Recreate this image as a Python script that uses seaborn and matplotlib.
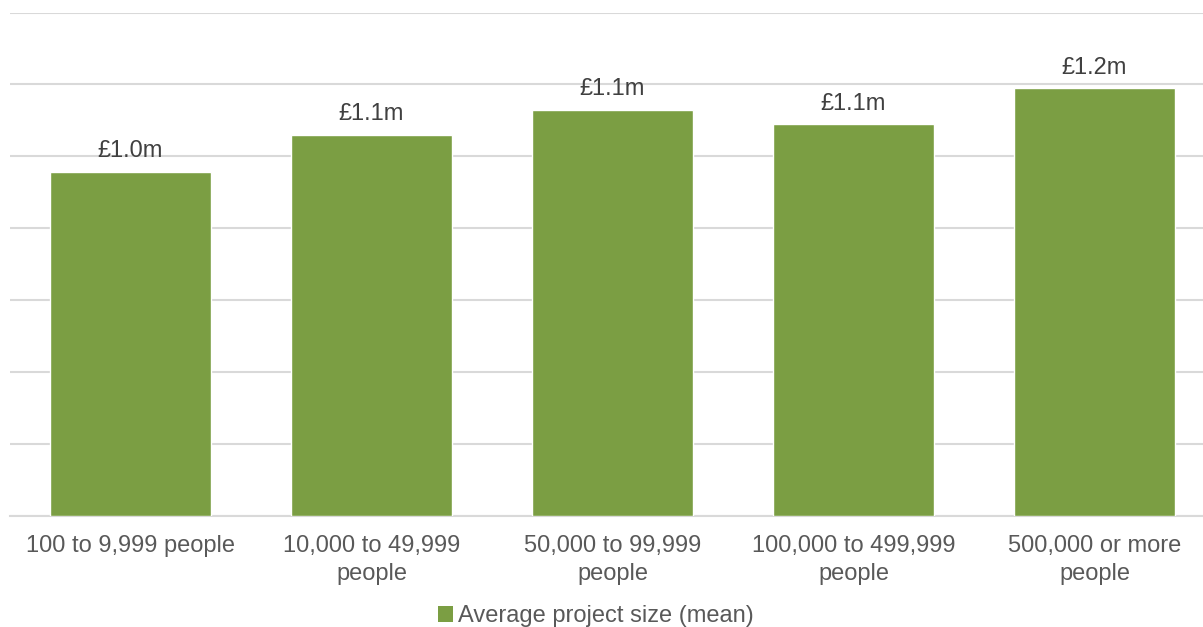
import matplotlib
matplotlib.use("Agg")
import matplotlib.pyplot as plt
import seaborn as sns
import pandas as pd
from matplotlib.patches import Patch

categories = ["100 to 9,999 people", "10,000 to 49,999\npeople", "50,000 to 99,999\npeople",
              "100,000 to 499,999\npeople", "500,000 or more\npeople"]
values = [0.956, 1.060, 1.129, 1.089, 1.189]  # £ millions
value_labels = ["£1.0m", "£1.1m", "£1.1m", "£1.1m", "£1.2m"]
series_name = "Average project size (mean)"

green = "#7B9E43"
df = pd.DataFrame({"band": categories, "value": values})

sns.set_theme(style="white")
plt.rcParams["font.family"] = ["Liberation Sans", "DejaVu Sans"]

fig = plt.figure(figsize=(12.03, 6.27), dpi=100)
ax = fig.add_axes([10 / 1203, 1 - 516 / 627, 1205 / 1203, 503.5 / 627])

sns.barplot(data=df, x="band", y="value", color=green, saturation=1,
            width=0.665, ax=ax, zorder=3)

ax.set_ylim(0, 1.4)
ax.set_xlim(-0.5, 4.5)
ax.set_yticks([0.2 * i for i in range(8)])
ax.yaxis.grid(True, color="#D9D9D9", linewidth=1.5, zorder=0)
ax.set_yticklabels([])
ax.tick_params(axis="y", length=0)
ax.tick_params(axis="x", length=0, labelsize=17, labelcolor="#595959", pad=14)
for lbl in ax.get_xticklabels():
    lbl.set_linespacing(1.3)
for s in ["top", "right", "left"]:
    ax.spines[s].set_visible(False)
ax.spines["bottom"].set_color("#D9D9D9")
ax.spines["bottom"].set_linewidth(1.5)
ax.set_xlabel("")
ax.set_ylabel("")

for i, (v, lab) in enumerate(zip(values, value_labels)):
    ax.annotate(lab, (i, v), xytext=(0, 7), textcoords="offset points",
                ha="center", va="bottom", fontsize=17, color="#404040")

handle = Patch(facecolor=green, edgecolor="none")
fig.legend([handle], [series_name], loc="center", bbox_to_anchor=(596 / 1203, 1 - 616 / 627),
           frameon=False, fontsize=17, labelcolor="#595959", handlelength=0.65,
           handleheight=0.65, handletextpad=0.2)

fig.savefig("out.png", dpi=100)
